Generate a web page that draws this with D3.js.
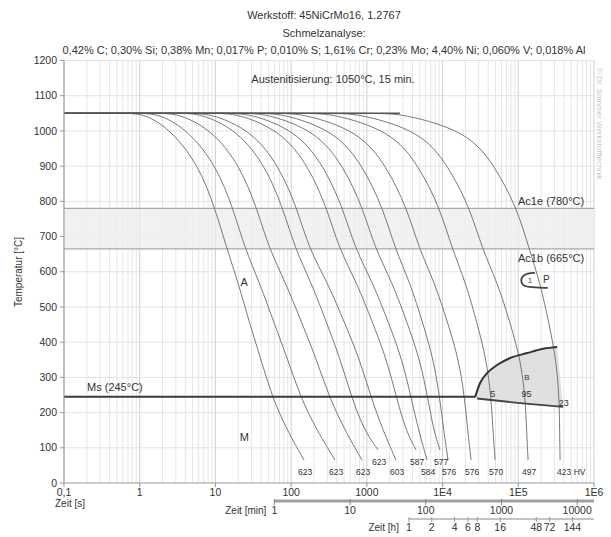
<!DOCTYPE html>
<html><head><meta charset="utf-8">
<script src="https://cdn.jsdelivr.net/npm/d3@7"></script>
<style>
body{margin:0;background:#fff}
svg{display:block}
text{font-family:"Liberation Sans",Arial,sans-serif;fill:#333}
</style>
</head><body>
<svg id="c" width="611" height="537"></svg>
<script>
// ---------------- data ----------------
const titleLines = [
  "Werkstoff: 45NiCrMo16, 1.2767",
  "Schmelzanalyse:",
  "0,42% C; 0,30% Si; 0,38% Mn; 0,017% P; 0,010% S; 1,61% Cr; 0,23% Mo; 4,40% Ni; 0,060% V; 0,018% Al"
];
const austenitizingText = "Austenitisierung: 1050°C, 15 min.";
const copyrightText = "© Dr. Sommer Werkstofftechnik";

const xTickValues = [0.1, 1, 10, 100, 1000, 1e4, 1e5, 1e6];
const xTickLabels = ["0,1", "1", "10", "100", "1000", "1E4", "1E5", "1E6"];
const yTickValues = [0, 100, 200, 300, 400, 500, 600, 700, 800, 900, 1000, 1100, 1200];
const minuteTicks = [1, 10, 100, 1000, 10000];
const hourTicks = [1, 2, 4, 6, 8, 16, 48, 72, 144];
const hourLabels = ["1", "2", "4", "6", "8", "16", "48", "72", "144"];

const austeniteTemp = 1050;
const ac1eTemp = 780;
const ac1bTemp = 665;
const msTemp = 245;

// temperatures at which each cooling curve is sampled (the last point uses curveEndTemps)
const curveTemps = [1050, 1000, 900, 780, 665, 570, 450, 350, 245, 150];
// times in seconds for each curve at curveTemps, plus end time
const curveTimes = [
  [1.17, 2.67, 6.07, 9.88, 14.2, 19.9, 28.6, 40.0, 55.9, 88.3, 148],
  [1.80, 4.48, 10.3, 17.1, 24.6, 38.1, 60.5, 90.5, 132, 218, 380],
  [3.30, 9.30, 21.1, 35.4, 51.1, 84.3, 141, 217, 317, 511, 864],
  [6.45, 19.9, 45.9, 78.2, 113, 184, 300, 449, 624, 918, 1406],
  [8.75, 30.4, 69.2, 120, 172, 302, 520, 806, 1129, 1627, 2430],
  [19.3, 73.5, 170, 298, 429, 733, 1219, 1832, 2445, 3254, 4467],
  [28.2, 118, 272, 485, 698, 1196, 1976, 2935, 3813, 4819, 6240],
  [46.0, 213, 492, 891, 1283, 2165, 3480, 5028, 6336, 7605, 9268],
  [75.1, 384, 891, 1637, 2358, 3710, 5559, 7605, 9129, 10340, 11820],
  [138, 783, 1821, 3396, 4892, 7839, 11910, 16350, 19470, 21460, 23800],
  [335, 2100, 4892, 9268, 13350, 20200, 28910, 37890, 43590, 46330, 49380],
  [740, 5137, 12000, 23080, 33250, 52970, 79350, 106900, 123400, 128700, 134700],
  [2745, 21070, 49380, 96400, 138900, 193400, 256700, 315700, 347000, 351300, 356600]
];
const curveEndTemps = [65, 65, 65, 94, 65, 94, 65, 94, 65, 65, 65, 65, 65];
const hardnessLabels = ["623", "623", "623", "623", "603", "587", "584", "577", "576", "576", "570", "497", "423 HV"];

const bainiteStart = [[26900, 244], [31300, 284], [38700, 312], [52500, 335], [78000, 355], [131000, 369], [213000, 381], [326000, 386]];
const bainiteEnd = [[28600, 240], [106000, 227], [391000, 216]];
const pearliteNose = [[166000, 597], [133000, 596], [112000, 588], [108000, 575], [113000, 563], [128000, 556], [245000, 554]];

const phaseLabels = [
  {text: "A", t: 24, T: 571},
  {text: "M", t: 24, T: 130},
  {text: "B", t: 130000, T: 300}
];
const bainitePercent = [
  {text: "5", t: 46000, T: 252},
  {text: "95", t: 128000, T: 252},
  {text: "23", t: 400000, T: 228}
];

// ---------------- drawing ----------------
const svg = d3.select("#c");
const x = d3.scaleLog().domain([0.1, 1e6]).range([64, 594]);
const y = d3.scaleLinear().domain([0, 1200]).range([483, 60.5]);

// grid
const gridV = [];
for (let k = -1; k < 6; k++) for (let m = 1; m <= 9; m++) gridV.push({v: m * Math.pow(10, k), major: m === 1});
gridV.push({v: 1e6, major: true});
svg.append("g").selectAll("line").data(gridV).join("line")
  .attr("x1", d => x(d.v)).attr("x2", d => x(d.v))
  .attr("y1", y(1200)).attr("y2", y(0))
  .attr("stroke", d => d.major ? "#cfcfcf" : "#e6e6e6").attr("stroke-width", 1);
svg.append("g").selectAll("line").data(yTickValues.filter(v => v > 0)).join("line")
  .attr("x1", x(0.1)).attr("x2", x(1e6))
  .attr("y1", d => y(d)).attr("y2", d => y(d))
  .attr("stroke", "#e3e3e3");

// Ac1 band
svg.append("rect").attr("x", x(0.1)).attr("width", x(1e6) - x(0.1))
  .attr("y", y(ac1eTemp)).attr("height", y(ac1bTemp) - y(ac1eTemp))
  .attr("fill", "#ededed").attr("opacity", 0.8);
[ac1eTemp, ac1bTemp].forEach(T => {
  svg.append("line").attr("x1", x(0.1)).attr("x2", x(1e6)).attr("y1", y(T)).attr("y2", y(T))
    .attr("stroke", "#a8a8a8").attr("stroke-width", 1.2);
});

// bainite region
const lineGen = d3.line().x(d => x(d[0])).y(d => y(d[1]));
const bainitePoly = bainiteStart.concat(bainiteEnd.slice().reverse());
svg.append("path").attr("d", d3.line().x(d => x(d[0])).y(d => y(d[1])).curve(d3.curveLinearClosed)(bainitePoly))
  .attr("fill", "#e0e0e0").attr("stroke", "none");

// cooling curves (flat at the austenitizing temperature, then the read points)
const curveLine = d3.line().x(d => x(d[0])).y(d => y(d[1])).curve(d3.curveBasis);
const curves = curveTimes.map((times, i) => {
  const pts = [[0.1, austeniteTemp], [times[0] / 2, austeniteTemp]];
  times.forEach((t, j) => pts.push([t, j < curveTemps.length ? curveTemps[j] : curveEndTemps[i]]));
  return pts;
});
svg.append("g").selectAll("path").data(curves).join("path")
  .attr("d", d => curveLine(d)).attr("fill", "none")
  .attr("stroke", "#6a6a6a").attr("stroke-width", 0.9);

// austenitizing line
svg.append("line").attr("x1", x(0.1)).attr("x2", x(curveTimes[curveTimes.length - 1][0]))
  .attr("y1", y(austeniteTemp)).attr("y2", y(austeniteTemp))
  .attr("stroke", "#555").attr("stroke-width", 1.4);

// Ms line
svg.append("line").attr("x1", x(0.1)).attr("x2", x(bainiteStart[0][0]))
  .attr("y1", y(msTemp)).attr("y2", y(msTemp))
  .attr("stroke", "#3a3a3a").attr("stroke-width", 2.2);

// bainite boundaries
svg.append("path").attr("d", d3.line().x(d => x(d[0])).y(d => y(d[1])).curve(d3.curveMonotoneX)(bainiteStart))
  .attr("fill", "none").attr("stroke", "#333").attr("stroke-width", 2);
svg.append("path").attr("d", lineGen(bainiteEnd))
  .attr("fill", "none").attr("stroke", "#444").attr("stroke-width", 1.8);

// pearlite nose
svg.append("path").attr("d", d3.line().x(d => x(d[0])).y(d => y(d[1])).curve(d3.curveBasis)(pearliteNose))
  .attr("fill", "none").attr("stroke", "#444").attr("stroke-width", 1.8);
svg.append("text").attr("x", x(235000)).attr("y", y(578)).attr("dy", "0.35em").attr("font-size", 10).attr("text-anchor", "middle").text("P");
svg.append("text").attr("x", x(143000)).attr("y", y(574)).attr("dy", "0.35em").attr("font-size", 7).attr("text-anchor", "middle").text("1");

// axes
const axisColor = "#999";
svg.append("line").attr("x1", x(0.1)).attr("x2", x(0.1)).attr("y1", y(1200)).attr("y2", y(0)).attr("stroke", axisColor);
svg.append("line").attr("x1", x(0.1)).attr("x2", x(1e6)).attr("y1", y(0)).attr("y2", y(0)).attr("stroke", axisColor);
svg.append("g").selectAll("line").data(yTickValues).join("line")
  .attr("x1", x(0.1) - 4).attr("x2", x(0.1)).attr("y1", d => y(d)).attr("y2", d => y(d)).attr("stroke", axisColor);
svg.append("g").selectAll("text").data(yTickValues).join("text")
  .attr("x", x(0.1) - 7).attr("y", d => y(d)).attr("dy", "0.35em")
  .attr("text-anchor", "end").attr("font-size", 10.5).text(d => d);
svg.append("g").selectAll("line").data(xTickValues).join("line")
  .attr("x1", d => x(d)).attr("x2", d => x(d)).attr("y1", y(0)).attr("y2", y(0) + 4).attr("stroke", axisColor);
svg.append("g").selectAll("text").data(xTickValues).join("text")
  .attr("x", d => x(d)).attr("y", 496).attr("text-anchor", "middle").attr("font-size", 10.5)
  .text((d, i) => xTickLabels[i]);
svg.append("text").attr("x", 55).attr("y", 507).attr("font-size", 10).text("Zeit [s]");
svg.append("text").attr("transform", "translate(22,272) rotate(-90)").attr("text-anchor", "middle")
  .attr("font-size", 10).text("Temperatur [°C]");

// minute axis
svg.append("line").attr("x1", x(60)).attr("x2", x(1e6)).attr("y1", 501).attr("y2", 501)
  .attr("stroke", "#a0a0a0").attr("stroke-width", 3);
svg.append("g").selectAll("line").data(minuteTicks).join("line")
  .attr("x1", d => x(d * 60)).attr("x2", d => x(d * 60)).attr("y1", 499).attr("y2", 505).attr("stroke", "#888");
svg.append("g").selectAll("text").data(minuteTicks).join("text")
  .attr("x", d => x(d * 60)).attr("y", 514).attr("text-anchor", "middle").attr("font-size", 10.5).text(d => d);
svg.append("text").attr("x", x(60) - 8).attr("y", 514).attr("text-anchor", "end").attr("font-size", 10).text("Zeit [min]");

// hour axis
svg.append("line").attr("x1", x(3600)).attr("x2", x(1e6)).attr("y1", 519).attr("y2", 519)
  .attr("stroke", "#b0b0b0").attr("stroke-width", 1.5);
svg.append("g").selectAll("line").data(hourTicks).join("line")
  .attr("x1", d => x(d * 3600)).attr("x2", d => x(d * 3600)).attr("y1", 517).attr("y2", 522).attr("stroke", "#999");
svg.append("g").selectAll("text").data(hourTicks).join("text")
  .attr("x", d => x(d * 3600)).attr("y", 531).attr("text-anchor", "middle").attr("font-size", 10.5)
  .text((d, i) => hourLabels[i]);
svg.append("text").attr("x", x(3600) - 10).attr("y", 531).attr("text-anchor", "end").attr("font-size", 10).text("Zeit [h]");

// titles
titleLines.forEach((s, i) => {
  svg.append("text").attr("x", 324).attr("y", 19 + i * 17.5).attr("text-anchor", "middle")
    .attr("font-size", 11).text(s);
});
svg.append("text").attr("x", 333).attr("y", 83).attr("text-anchor", "middle").attr("font-size", 11).text(austenitizingText);
svg.append("text").attr("transform", "translate(597,68) rotate(90)").attr("font-size", 8)
  .style("fill", "#c8c8c8").text(copyrightText);

// line labels
svg.append("text").attr("x", 518).attr("y", y(ac1eTemp) - 3).attr("font-size", 11).attr("text-anchor", "start").text("Ac1e (780°C)");
svg.append("text").attr("x", 518).attr("y", y(ac1bTemp) + 13).attr("font-size", 11).attr("text-anchor", "start").text("Ac1b (665°C)");
svg.append("text").attr("x", 87).attr("y", y(msTemp) - 6).attr("font-size", 11).text("Ms (245°C)");

phaseLabels.forEach(p => {
  svg.append("text").attr("x", x(p.t)).attr("y", y(p.T)).attr("dy", "0.35em").attr("text-anchor", "middle")
    .attr("font-size", p.text === "B" ? 8 : 11).text(p.text);
});
bainitePercent.forEach(p => {
  svg.append("text").attr("x", x(p.t)).attr("y", y(p.T)).attr("dy", "0.35em").attr("text-anchor", "middle")
    .attr("font-size", 9).text(p.text);
});

// hardness labels
curves.forEach((pts, i) => {
  const end = pts[pts.length - 1];
  const last = i === curves.length - 1;
  svg.append("text").attr("x", x(end[0]) + (last ? -3 : 1)).attr("y", y(end[1]) + 12)
    .attr("dy", "0.35em").attr("text-anchor", last ? "start" : "middle").attr("font-size", 8.5)
    .text(hardnessLabels[i]);
});
</script>
</body></html>
